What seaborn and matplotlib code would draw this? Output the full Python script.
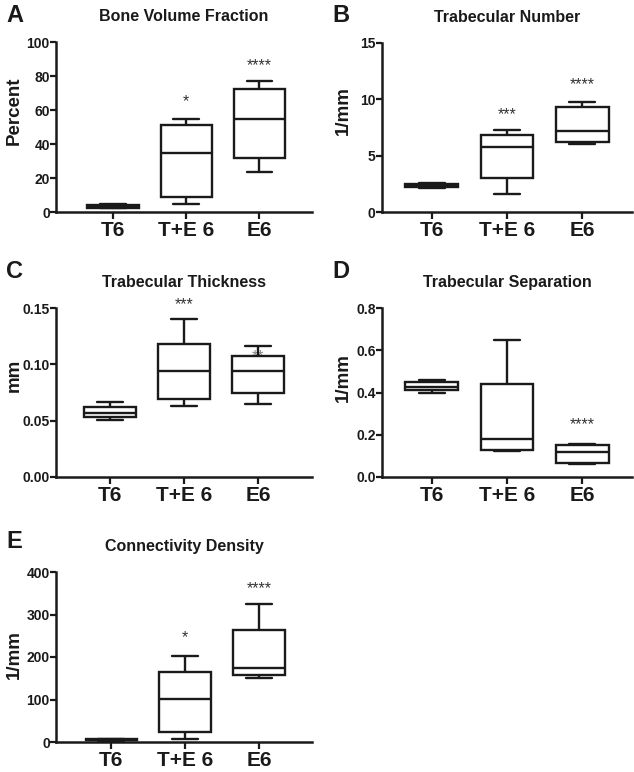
import matplotlib
matplotlib.use("Agg")
import matplotlib.pyplot as plt
import pandas as pd
import seaborn as sns

sns.set_style("ticks")
plt.rcParams['font.family'] = ['Liberation Sans', 'DejaVu Sans']
plt.rcParams['font.weight'] = 'bold'
for k in ['text.color', 'axes.labelcolor', 'xtick.color', 'ytick.color', 'axes.edgecolor']:
    plt.rcParams[k] = '#1a1a1a'

groups = ["T6", "T+E 6", "E6"]

# five-number summaries: min, q1, median, q3, max
bvf = [[2.2, 2.6, 3.3, 4.2, 4.6], [4.5, 9.1, 35.0, 51.2, 54.5], [23.6, 31.9, 54.5, 72.2, 77.2]]
tbn = [[2.15, 2.25, 2.35, 2.5, 2.6], [1.6, 3.0, 5.76, 6.8, 7.3], [6.06, 6.2, 7.16, 9.33, 9.77]]
tbth = [[0.0505, 0.0532, 0.057, 0.0624, 0.0665], [0.063, 0.0689, 0.0941, 0.118, 0.140],
        [0.0647, 0.0745, 0.0944, 0.1075, 0.1167]]
tbsp = [[0.40, 0.41, 0.425, 0.452, 0.458], [0.124, 0.13, 0.178, 0.44, 0.65], [0.063, 0.067, 0.117, 0.152, 0.158]]
conn = [[3, 4, 5, 6, 7], [6, 23, 102, 165, 202], [150, 157, 173, 264, 324]]

# significance marks and their heights
bvf_stars, bvf_star_y = ["", "*", "****"], [0, 65, 86]
tbn_stars, tbn_star_y = ["", "***", "****"], [0, 8.6, 11.3]
tbth_stars, tbth_star_y = ["", "***", "**"], [0, 0.153, 0.107]
tbsp_stars, tbsp_star_y = ["", "", "****"], [0, 0, 0.25]
conn_stars, conn_star_y = ["", "*", "****"], [0, 246, 362]

W, H = 634, 772
fig = plt.figure(figsize=(W / 100, H / 100), dpi=100)


def long_table(values):
    rows = []
    for g, v in zip(groups, values):
        for x in v:
            rows.append((g, x))
    return pd.DataFrame(rows, columns=["group", "value"])


def panel(box, values, title, ylabel, yticks, yfmt, stars, star_y, xlim, letter, letter_xy, ylab_xy):
    l, t, r, b = box
    ax = fig.add_axes([l / W, 1 - b / H, (r - l) / W, (b - t) / H])
    df = long_table(values)
    sns.boxplot(data=df, x="group", y="value", order=groups, whis=(0, 100), width=0.7,
                color="white", linecolor="#1a1a1a", linewidth=1.7, showfliers=False, ax=ax)
    ax.set_ylim(yticks[0], yticks[-1])
    ax.set_xlim(*xlim)
    ax.set_yticks(yticks)
    ax.set_yticklabels([yfmt.format(v) for v in yticks], fontsize=10, fontweight='bold')
    ax.set_xticks(range(len(groups)))
    ax.set_xticklabels(groups, fontsize=15, fontweight='bold')
    ax.tick_params(axis='y', length=4, width=1.6, pad=0.5)
    ax.tick_params(axis='x', length=5, width=1.6, pad=1.5)
    for s in ['left', 'bottom']:
        ax.spines[s].set_linewidth(1.8)
    sns.despine(ax=ax)
    ax.set_xlabel("")
    ax.set_ylabel("")
    ax.set_title(title, fontsize=11.5, fontweight='bold', pad=15)
    for i, (s, y) in enumerate(zip(stars, star_y)):
        if s:
            col = '#888888' if s == "**" else '#333333'
            ax.text(i, y, s, ha='center', va='center', fontsize=11.5, fontweight='normal',
                    color=col, zorder=1)
    fig.text(letter_xy[0] / W, 1 - letter_xy[1] / H, letter, fontsize=17, fontweight='bold',
             ha='left', va='center')
    fig.text(ylab_xy[0] / W, 1 - ylab_xy[1] / H, ylabel, fontsize=13.5, fontweight='bold',
             rotation=90, ha='center', va='center')
    return ax


panel((56, 42, 312, 212), bvf, "Bone Volume Fraction", "Percent", [0, 20, 40, 60, 80, 100], "{:g}",
      bvf_stars, bvf_star_y, (-0.78, 2.72), "A", (6, 15), (14, 111))
panel((382, 43, 632, 212), tbn, "Trabecular Number", "1/mm", [0, 5, 10, 15], "{:g}",
      tbn_stars, tbn_star_y, (-0.66, 2.66), "B", (332, 15), (343, 111))
panel((56, 308, 312, 477), tbth, "Trabecular Thickness", "mm", [0, 0.05, 0.10, 0.15], "{:.2f}",
      tbth_stars, tbth_star_y, (-0.72, 2.72), "C", (6, 272), (14, 375))
panel((382, 308, 632, 477), tbsp, "Trabecular Separation", "1/mm", [0, 0.2, 0.4, 0.6, 0.8], "{:.1f}",
      tbsp_stars, tbsp_star_y, (-0.66, 2.66), "D", (332, 272), (343, 378))
panel((56, 572, 312, 742), conn, "Connectivity Density", "1/mm", [0, 100, 200, 300, 400], "{:g}",
      conn_stars, conn_star_y, (-0.75, 2.72), "E", (6, 542), (14, 655))

fig.savefig("out.png", dpi=100)
